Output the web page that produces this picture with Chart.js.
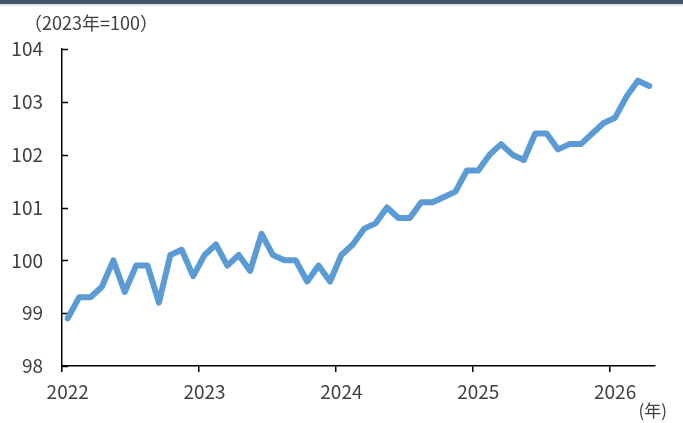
<!DOCTYPE html>
<html lang="ja">
<head>
<meta charset="utf-8">
<script src="https://cdn.jsdelivr.net/npm/chart.js@4.4.1/dist/chart.umd.min.js"></script>
<style>
  html, body { margin: 0; padding: 0; background: #fff; }
  #wrap { position: relative; width: 683px; height: 423px; }
  #topbar { position: absolute; left: 0; top: 0; width: 683px; height: 4px; background: #44546a; border-bottom: 2px solid #dde2ea; z-index: 2; }
  canvas { position: absolute; left: 0; top: 0; }
</style>
</head>
<body>
<div id="wrap">
  <div id="topbar"></div>
  <canvas id="indexChart" width="683" height="423"></canvas>
</div>
<script>
// --- DATA ---
const months = [
    '2022-01','2022-02','2022-03','2022-04','2022-05','2022-06','2022-07','2022-08','2022-09','2022-10','2022-11','2022-12',
    '2023-01','2023-02','2023-03','2023-04','2023-05','2023-06','2023-07','2023-08','2023-09','2023-10','2023-11','2023-12',
    '2024-01','2024-02','2024-03','2024-04','2024-05','2024-06','2024-07','2024-08','2024-09','2024-10','2024-11','2024-12',
    '2025-01','2025-02','2025-03','2025-04','2025-05','2025-06','2025-07','2025-08','2025-09','2025-10','2025-11','2025-12',
    '2026-01','2026-02','2026-03','2026-04'
];
const indexValues = [
    98.9, 99.3, 99.3, 99.5, 100.0, 99.4, 99.9, 99.9, 99.2, 100.1, 100.2, 99.7,
    100.1, 100.3, 99.9, 100.1, 99.8, 100.5, 100.1, 100.0, 100.0, 99.6, 99.9, 99.6,
    100.1, 100.3, 100.6, 100.7, 101.0, 100.8, 100.8, 101.1, 101.1, 101.2, 101.3, 101.7,
    101.7, 102.0, 102.2, 102.0, 101.9, 102.4, 102.4, 102.1, 102.2, 102.2, 102.4, 102.6,
    102.7, 103.1, 103.4, 103.3
];
const yMin = 98;
const yMax = 104;
const yStep = 1;
const unitLabel = '（2023年=100）';
const axisUnitLabel = '(年)';

const FONT = '"Noto Sans CJK JP", "Noto Sans", sans-serif';
const TEXT_COLOR = '#404040';

// --- PLUGINS ---
// y-axis tick marks point into the plot area
const innerYTicks = {
    id: 'innerYTicks',
    beforeDatasetsDraw(chart) {
        const { ctx, chartArea, scales: { y } } = chart;
        ctx.save();
        ctx.strokeStyle = '#000';
        ctx.lineWidth = 1.5;
        y.ticks.forEach(t => {
            const py = Math.round(y.getPixelForValue(t.value)) + 0.5;
            ctx.beginPath();
            ctx.moveTo(chartArea.left, py);
            ctx.lineTo(chartArea.left + 6, py);
            ctx.stroke();
        });
        ctx.restore();
    }
};

// unit captions above the y axis and under the x axis
const unitCaptions = {
    id: 'unitCaptions',
    afterDraw(chart) {
        const { ctx } = chart;
        ctx.save();
        ctx.fillStyle = TEXT_COLOR;
        ctx.textBaseline = 'middle';
        ctx.textAlign = 'left';
        ctx.font = `18px ${FONT}`;
        ctx.fillText(unitLabel, 24, 23);
        ctx.textAlign = 'right';
        ctx.font = `17px ${FONT}`;
        ctx.fillText(axisUnitLabel, 667, 411);
        ctx.restore();
    }
};

// --- CHART ---
const ctx = document.getElementById('indexChart').getContext('2d');
new Chart(ctx, {
    type: 'line',
    data: {
        labels: months,
        datasets: [{
            data: indexValues,
            borderColor: '#5b9bd5',
            borderWidth: 6,
            borderJoinStyle: 'round',
            borderCapStyle: 'round',
            pointRadius: 0,
            tension: 0,
            fill: false
        }]
    },
    options: {
        responsive: false,
        animation: false,
        devicePixelRatio: 1,
        layout: { padding: { top: 49, right: 28, bottom: 0, left: 0 } },
        plugins: {
            legend: { display: false },
            tooltip: { enabled: false }
        },
        scales: {
            x: {
                type: 'category',
                offset: true,
                border: { display: true, color: '#000', width: 1.5 },
                grid: {
                    offset: true,
                    drawOnChartArea: false,
                    drawTicks: true,
                    tickLength: 6,
                    lineWidth: 1.5,
                    color: c => (c.index % 12 === 0 ? '#000' : 'rgba(0,0,0,0)')
                },
                ticks: {
                    autoSkip: false,
                    maxRotation: 0,
                    padding: 8,
                    color: TEXT_COLOR,
                    font: { family: FONT, size: 19 },
                    callback: (v, i) => (i % 12 === 0 ? months[i].slice(0, 4) : '')
                },
                afterFit: s => { s.height = 57; s.paddingLeft = 0; s.paddingRight = 0; }
            },
            y: {
                min: yMin,
                max: yMax,
                border: { display: true, color: '#000', width: 1.5 },
                grid: { drawOnChartArea: false, drawTicks: false },
                ticks: {
                    stepSize: yStep,
                    padding: 19,
                    color: TEXT_COLOR,
                    font: { family: FONT, size: 19 }
                },
                afterFit: s => { s.width = 62; s.paddingTop = 0; s.paddingBottom = 0; }
            }
        }
    },
    plugins: [innerYTicks, unitCaptions]
});
</script>
</body>
</html>
